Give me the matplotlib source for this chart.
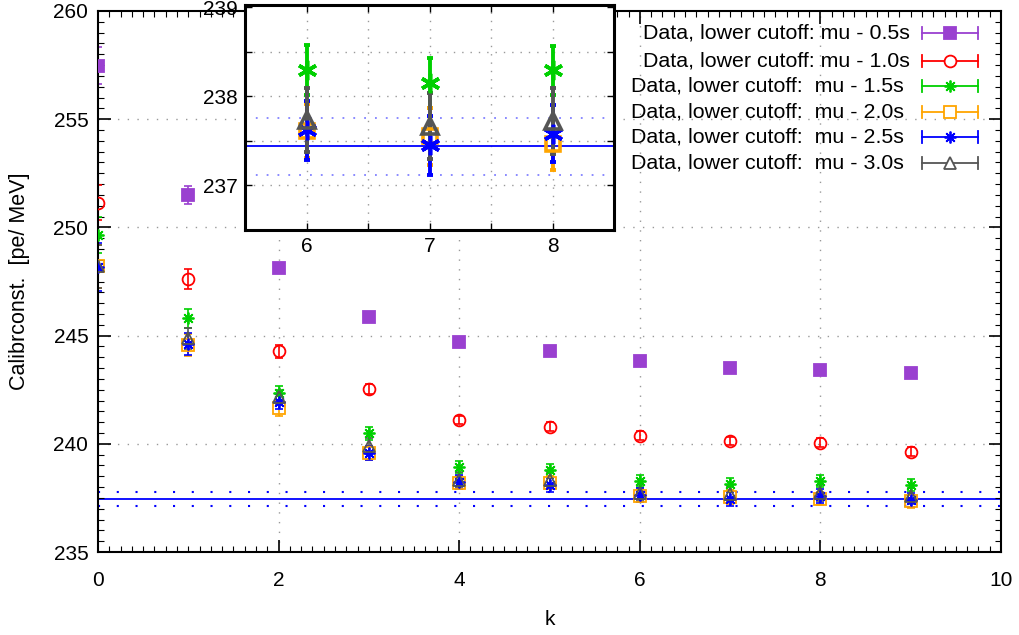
import matplotlib
matplotlib.use("Agg")
import matplotlib.pyplot as plt
from matplotlib.ticker import MultipleLocator, FuncFormatter
from matplotlib.lines import Line2D
import numpy as np

plt.rcParams['font.family'] = ['Liberation Sans', 'DejaVu Sans']

# ---------------- data ----------------
k = [0, 1, 2, 3, 4, 5, 6, 7, 8, 9]

labels = ["Data, lower cutoff: mu - 0.5s",
          "Data, lower cutoff: mu - 1.0s",
          "Data, lower cutoff:  mu - 1.5s ",
          "Data, lower cutoff:  mu - 2.0s ",
          "Data, lower cutoff:  mu - 2.5s ",
          "Data, lower cutoff:  mu - 3.0s "]

val_05 = [257.47, 251.50, 248.12, 245.88, 244.70, 244.27, 243.84, 243.52, 243.42, 243.29]
err_05 = [0.85, 0.40, 0.20, 0.20, 0.20, 0.15, 0.20, 0.15, 0.15, 0.20]

val_10 = [251.14, 247.62, 244.27, 242.53, 241.10, 240.79, 240.37, 240.14, 240.05, 239.64]
err_10 = [0.80, 0.45, 0.30, 0.22, 0.20, 0.20, 0.20, 0.18, 0.20, 0.20]

val_15 = [249.65, 245.80, 242.33, 240.48, 238.94, 238.79, 238.30, 238.15, 238.29, 238.10]
err_15 = [0.85, 0.45, 0.32, 0.30, 0.28, 0.28, 0.28, 0.28, 0.28, 0.28]

val_20 = [248.20, 244.57, 241.64, 239.58, 238.20, 238.20, 237.61, 237.55, 237.47, 237.35]
err_20 = [1.00, 0.50, 0.35, 0.32, 0.30, 0.30, 0.30, 0.32, 0.30, 0.30]

val_25 = [248.18, 244.61, 241.95, 239.59, 238.25, 238.10, 237.62, 237.45, 237.58, 237.40]
err_25 = [1.10, 0.50, 0.35, 0.33, 0.33, 0.33, 0.33, 0.33, 0.32, 0.33]

val_30 = [248.20, 244.87, 242.15, 239.90, 238.35, 238.35, 237.73, 237.67, 237.72, 237.60]
err_30 = [1.00, 0.50, 0.35, 0.35, 0.36, 0.36, 0.36, 0.37, 0.37, 0.36]

fit_value = 237.44
fit_upper = 237.76
fit_lower = 237.12

# ---------------- styles ----------------
colors = ['#9a40d0', '#ff0000', '#00d000', '#ffa500', '#0000ff', '#555555']
markers = ['s', 'o', (8, 2, 0), 's', (8, 2, 0), '^']
inset_markers = ['s', 'o', (6, 2, 0), 's', (6, 2, 0), '^']
inset_ms = [10, 10, 14, 9.5, 14, 11]
filled = [True, False, False, False, False, False]
vals = [val_05, val_10, val_15, val_20, val_25, val_30]
errs = [err_05, err_10, err_15, err_20, err_25, err_30]
draw_order = [0, 1, 2, 3, 5, 4]

FS = 15

W, H = 1019, 635
fig = plt.figure(figsize=(W / 100, H / 100), dpi=100)

def fx(px):
    return px / W

def fy(py):
    return 1 - py / H

ax = fig.add_axes([fx(98), fy(552), fx(1001) - fx(98), fy(11) - fy(552)])
ax.set_xlim(0, 10)
ax.set_ylim(235, 260)

grid_kw = dict(color='#999999', lw=1.0, ls=(0, (1, 6)), zorder=0)
for gx in [2, 4, 6, 8]:
    ax.axvline(gx, **grid_kw)
for gy in [240, 245, 250, 255]:
    ax.axhline(gy, **grid_kw)

ax.axhline(fit_value, color='#0000ff', lw=1.3, zorder=1)
ax.axhline(fit_upper, color='#0000ff', lw=1.5, ls=(0, (1, 8)), zorder=1)
ax.axhline(fit_lower, color='#0000ff', lw=1.5, ls=(0, (1, 8)), zorder=1)

for i in draw_order:
    ax.errorbar(k, vals[i], yerr=errs[i], fmt='none', ecolor=colors[i],
                elinewidth=1.2, capsize=3, capthick=1.2, zorder=2 + i * 0.1)
    ax.plot(k, vals[i], ls='none', marker=markers[i], ms=8.5,
            mfc=colors[i] if filled[i] else 'none', mec=colors[i],
            mew=1.3, zorder=3 + i * 0.1)

ax.xaxis.set_major_locator(MultipleLocator(2))
ax.xaxis.set_minor_locator(MultipleLocator(0.125))
ax.yaxis.set_major_locator(MultipleLocator(5))
ax.yaxis.set_minor_locator(MultipleLocator(0.5))
ax.tick_params(which='both', direction='in', top=True, right=True)
ax.tick_params(which='major', length=9, width=1.2, labelsize=FS, pad=7)
ax.tick_params(axis='x', which='major', pad=14)
ax.tick_params(which='minor', length=4, width=0.8)
for s in ax.spines.values():
    s.set_linewidth(1.5)
ax.set_xlabel('k', fontsize=FS, labelpad=14)
ax.set_ylabel('Calibrconst.  [pe/ MeV]', fontsize=15.5, labelpad=17)

# ---------------- legend (gnuplot style, manual) ----------------
leg_rows = [33, 61, 86, 112, 137, 163]
for i in range(6):
    py = leg_rows[i]
    fig.text(fx(910), fy(py), labels[i], ha='right', va='center', fontsize=15.4)
    x0, x1, xm = fx(922), fx(978), fx(950)
    fig.add_artist(Line2D([x0, x1], [fy(py), fy(py)], color=colors[i], lw=1.3,
                          transform=fig.transFigure))
    for xc in (x0, x1):
        fig.add_artist(Line2D([xc, xc], [fy(py - 6), fy(py + 6)], color=colors[i], lw=1.3,
                              transform=fig.transFigure))
    fig.add_artist(Line2D([xm], [fy(py)], ls='none', marker=markers[i], ms=8.5,
                          mfc=colors[i] if filled[i] else 'white', mec=colors[i], mew=1.3,
                          transform=fig.transFigure))

# ---------------- inset ----------------
axi = fig.add_axes([fx(245), fy(230), fx(614) - fx(245), fy(5) - fy(230)])
axi.set_facecolor('white')
axi.set_xlim(5.5, 8.5)
axi.set_ylim(236.5, 239.025)
igrid = dict(color='#999999', lw=1.0, ls=(0, (1, 5)), zorder=0)
for gx in [6, 6.5, 7, 7.5, 8]:
    axi.axvline(gx, **igrid)
for gy in [237, 237.5, 238, 238.5]:
    axi.axhline(gy, **igrid)
axi.axhline(fit_value, color='#0000ff', lw=1.3, zorder=1)
axi.axhline(fit_upper, color='#8080ff', lw=1.3, ls=(0, (1, 5)), zorder=1)
axi.axhline(fit_lower, color='#8080ff', lw=1.3, ls=(0, (1, 5)), zorder=1)

ik = [6, 7, 8]
for i in draw_order:
    v = [vals[i][j] for j in ik]
    e = [errs[i][j] for j in ik]
    axi.errorbar(ik, v, yerr=e, fmt='none', ecolor=colors[i],
                 elinewidth=2.8, capsize=2, capthick=2.8, zorder=2 + i * 0.1)
    axi.plot(ik, v, ls='none', marker=inset_markers[i], ms=inset_ms[i],
             mfc=colors[i] if filled[i] else 'none', mec=colors[i],
             mew=2.6, zorder=3 + i * 0.1)

axi.xaxis.set_major_locator(MultipleLocator(0.5))
axi.yaxis.set_major_locator(MultipleLocator(0.5))
axi.xaxis.set_major_formatter(FuncFormatter(lambda x, p: f"{x:.0f}" if abs(x - round(x)) < 1e-6 else ""))
axi.yaxis.set_major_formatter(FuncFormatter(lambda y, p: f"{y:.0f}" if abs(y - round(y)) < 1e-6 else ""))
axi.tick_params(which='major', direction='in', top=True, right=True, length=5, width=1.0,
                labelsize=FS, pad=5)
for s in axi.spines.values():
    s.set_linewidth(2.2)

fig.savefig('out.png', dpi=100)
